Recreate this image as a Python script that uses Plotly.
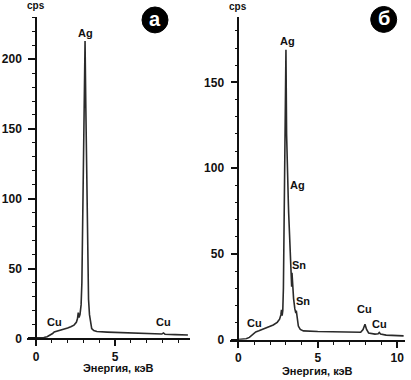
import plotly.graph_objects as go

# ---- Spectrum (а) ----
energy_a = [0.0, 0.3, 0.5, 0.7, 0.9, 1.05, 1.15, 1.3, 1.5, 1.8, 2.0, 2.2, 2.4, 2.55, 2.62, 2.67,
            2.72, 2.78, 2.85, 2.9, 2.95, 3.0, 3.05, 3.1, 3.15, 3.2, 3.24, 3.28, 3.32, 3.38, 3.45,
            3.52, 3.65, 3.85, 4.5, 5.5, 6.5, 7.5, 7.95, 8.05, 8.15, 8.8, 9.6]
cps_a = [0.4, 0.4, 0.6, 1.2, 2.2, 3.5, 4.6, 5.0, 5.6, 6.6, 7.4, 8.3, 9.5, 11.5, 14, 18.5,
         15, 17, 24, 40, 90, 150, 190, 213, 165, 110, 75, 45, 28, 17, 10,
         7, 5.6, 4.9, 4.5, 4.2, 3.8, 3.3, 3.1, 3.9, 3.0, 2.7, 2.4]

# ---- Spectrum (б) ----
energy_b = [0.0, 0.3, 0.5, 0.7, 0.85, 1.0, 1.1, 1.3, 1.6, 1.9, 2.2, 2.45, 2.6, 2.68, 2.72, 2.76,
            2.8, 2.84, 2.88, 2.93, 2.97, 3.0, 3.04, 3.08, 3.12, 3.15, 3.17, 3.22, 3.28, 3.33,
            3.36, 3.38, 3.41, 3.48, 3.56, 3.62, 3.65, 3.69, 3.78, 3.9, 4.1, 5.0, 6.0, 7.0, 7.7,
            7.85, 7.97, 8.07, 8.2, 8.6, 8.8, 8.87, 8.95, 9.3, 10.0, 10.4]
cps_b = [0.2, 0.3, 0.6, 1.4, 2.6, 4.0, 4.6, 5.2, 6.2, 7.3, 8.6, 10.2, 12, 14.5, 17.5, 14,
         17, 30, 70, 130, 165, 169, 120, 95, 86, 80, 74, 60, 48, 38,
         31, 39, 33, 24, 18, 15.5, 17, 13, 8, 6, 5.2, 4.8, 4.5, 4.3, 4.4,
         6, 9, 6, 4, 3.3, 3.5, 4.3, 3.4, 2.7, 2.4, 2.3]

# ---- Peak labels ----
labels_a = ["Ag", "Cu", "Cu"]
labels_a_x = [3.1, 1.14, 8.06]
labels_a_y = [219, 11.6, 11.4]

labels_b = ["Ag", "Ag", "Sn", "Sn", "Cu", "Cu", "Cu"]
labels_b_x = [3.1, 3.7, 3.8, 4.07, 1.05, 7.92, 8.88]
labels_b_y = [174, 90, 43.7, 22.5, 9.9, 17.8, 9.1]

axis_title = "Энергия, кэВ"
y_unit = "cps"
panel_letters = ["а", "б"]

W, H = 411, 380
HV = 374.0  # effective vertical extent used for placing things
FONT = "Liberation Sans, Arial, sans-serif"
INK = "#111111"
LINE = "#2a2a2a"


def py(y_px):
    return (HV - y_px) / HV


fig = go.Figure()
fig.add_trace(go.Scatter(x=energy_a, y=cps_a, mode="lines", xaxis="x", yaxis="y",
                         line=dict(color=LINE, width=1.6), showlegend=False, hoverinfo="skip"))
fig.add_trace(go.Scatter(x=energy_b, y=cps_b, mode="lines", xaxis="x2", yaxis="y2",
                         line=dict(color=LINE, width=1.6), showlegend=False, hoverinfo="skip"))

tickfont = dict(family=FONT, size=12, color=INK, weight="bold")

def xax(rng, dom, anchor):
    return dict(range=rng, domain=dom, anchor=anchor, showline=True, linecolor=INK, linewidth=1.5,
                ticks="outside", ticklen=6, tickwidth=1.5, tickcolor=INK, tick0=0, dtick=5,
                minor=dict(dtick=1, ticks="outside", ticklen=3, tickwidth=1, tickcolor=INK),
                showgrid=False, zeroline=False, tickfont=tickfont, fixedrange=True)

def yax(rng, dom, pos):
    return dict(range=rng, domain=dom, anchor="free", position=pos, showline=True, linecolor=INK,
                linewidth=1.5, ticks="outside", ticklen=7, tickwidth=1.5, tickcolor=INK, tick0=0,
                dtick=50, minor=dict(dtick=10, ticks="outside", ticklen=3, tickwidth=1, tickcolor=INK),
                showgrid=False, zeroline=False, tickfont=tickfont, ticklabelstandoff=4,
                fixedrange=True)

fig.update_layout(
    width=W, height=H, autosize=False, margin=dict(l=0, r=0, t=0, b=0),
    paper_bgcolor="white", plot_bgcolor="white",
    xaxis=xax([-0.6, 9.7], [26.5 / W, 189.5 / W], "y"),
    yaxis=yax([0, 230], [py(339.3), py(17.3)], 36 / W),
    xaxis2=xax([-0.5, 10.5], [230.3 / W, 405.2 / W], "y2"),
    yaxis2=yax([0, 188], [py(340.7), py(17.3)], 238.3 / W),
)

lab_font = dict(family=FONT, size=11, color=INK, weight="bold")
C = dict(xanchor="center", yanchor="middle", showarrow=False)
annos = []
for t, x, y in zip(labels_a, labels_a_x, labels_a_y):
    annos.append(dict(text=t, x=x, y=y, xref="x", yref="y", font=lab_font, **C))
for t, x, y in zip(labels_b, labels_b_x, labels_b_y):
    annos.append(dict(text=t, x=x, y=y, xref="x2", yref="y2", font=lab_font, **C))

# axis titles and units
annos.append(dict(text=axis_title, x=119 / W, y=py(369), xref="paper", yref="paper",
                  font=lab_font, **C))
annos.append(dict(text=axis_title, x=317 / W, y=py(371.5), xref="paper", yref="paper",
                  font=lab_font, **C))
annos.append(dict(text=y_unit, x=36 / W, y=py(5.5), xref="paper", yref="paper",
                  font=dict(family=FONT, size=10, color=INK, weight="bold"), **C))
annos.append(dict(text=y_unit, x=238 / W, y=py(6.5), xref="paper", yref="paper",
                  font=dict(family=FONT, size=10, color=INK, weight="bold"), **C))

# panel badges
shapes = []
for (cx, cy), letter in zip([(155, 20), (383.7, 19.5)], panel_letters):
    r = 13
    shapes.append(dict(type="circle", xref="paper", yref="paper",
                       x0=(cx - r) / W, x1=(cx + r) / W, y0=py(cy + r), y1=py(cy - r),
                       fillcolor="black", line=dict(color="black", width=1)))
    annos.append(dict(text=letter, x=cx / W, y=py(cy - 1), xref="paper", yref="paper",
                      font=dict(family=FONT, size=20, color="white", weight="bold"), **C))

fig.update_layout(annotations=annos, shapes=shapes)
fig.write_html("out.html", config={"responsive": False, "displayModeBar": False},
               post_script="document.body.style.margin='0px';")
